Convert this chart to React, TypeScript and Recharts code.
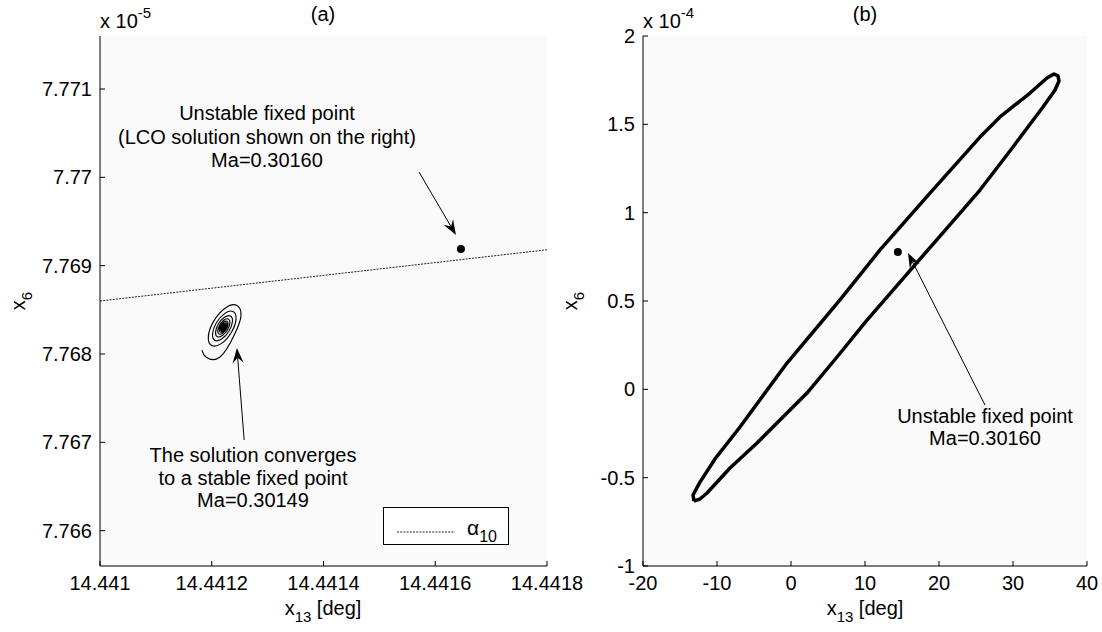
import React from 'react';
import { ComposedChart, Line, Scatter, XAxis, YAxis, CartesianGrid, ReferenceLine, Legend } from 'recharts';

// ---- panel (a): x13 vs x6 (x 1e-5) near the fixed point ----
const aXTicks = [14.441, 14.4412, 14.4414, 14.4416, 14.4418];
const aYTicks = [7.766, 7.767, 7.768, 7.769, 7.77, 7.771];
const aXDomain = [14.441, 14.4418];
const aYDomain = [7.7656, 7.7716];

// alpha_10 trace (dashed)
const alphaX = [14.441, 14.4418];
const alphaY = [7.7686, 7.76918];

// trajectory spiralling into the stable fixed point (Ma=0.30149)
const spiralX = [
  14.4411826, 14.4411897, 14.4412148, 14.4412409, 14.4412523, 14.441245, 14.4412245, 14.4412035,
  14.4411939, 14.4412001, 14.4412175, 14.4412353, 14.4412435, 14.4412382, 14.4412235, 14.4412083,
  14.4412014, 14.4412059, 14.4412184, 14.4412312, 14.4412371, 14.4412333, 14.4412227, 14.4412118,
  14.4412068, 14.44121, 14.441219, 14.4412283, 14.4412325, 14.4412298, 14.4412221, 14.4412143,
  14.4412107, 14.441213, 14.4412195, 14.4412261, 14.4412292, 14.4412272, 14.4412217, 14.4412161,
  14.4412135, 14.4412152, 14.4412198, 14.4412246, 14.4412268, 14.4412254, 14.4412174, 14.4412167,
  14.4412235, 14.4412241, 14.4412183, 14.4412178, 14.4412227, 14.4412231, 14.441219, 14.4412186,
  14.4412222, 14.4412225, 14.4412195, 14.4412192, 14.4412218, 14.441222, 14.4412198, 14.4412196,
  14.4412214, 14.4412216,
];
const spiralY = [
  7.768045, 7.767966, 7.767966, 7.768224, 7.768431, 7.76855, 7.768521, 7.768372,
  7.768197, 7.768096, 7.76812, 7.768247, 7.768395, 7.768481, 7.76846, 7.768353,
  7.768227, 7.768154, 7.768172, 7.768263, 7.76837, 7.768431, 7.768416, 7.768339,
  7.768248, 7.768196, 7.768209, 7.768274, 7.768351, 7.768396, 7.768385, 7.768329,
  7.768264, 7.768226, 7.768235, 7.768283, 7.768338, 7.76837, 7.768362, 7.768322,
  7.768275, 7.768248, 7.768255, 7.768289, 7.768329, 7.768352, 7.768317, 7.768264,
  7.768293, 7.768338, 7.768313, 7.768275, 7.768296, 7.768329, 7.768311, 7.768283,
  7.768298, 7.768322, 7.768309, 7.768289, 7.7683, 7.768317, 7.768308, 7.768293,
  7.768301, 7.768313,
];

// unstable fixed point (Ma=0.30160)
const unstableAX = [14.441646];
const unstableAY = [7.76919];

// annotation arrows [tailX, tailY, tipX, tipY]
const arrowUnstableA = [14.441571, 7.77006, 14.441637, 7.769347];
const arrowStableA = [14.441258, 7.767026, 14.441245, 7.768068];

// ---- panel (b): LCO at Ma=0.30160 (x 1e-4) ----
const bXTicks = [-20, -10, 0, 10, 20, 30, 40];
const bYTicks = [-1, -0.5, 0, 0.5, 1, 1.5, 2];
const bXDomain = [-20, 40];
const bYDomain = [-1, 2];

const lcoX = [
  -13.11, -12.3, -11.35, -8.24, -4.59, -1.22, 2.16, 6.22, 10.27, 16.49, 21.08, 25.54,
  30.0, 34.05, 35.68, 36.22, 36.08, 35.54, 34.59, 32.3, 28.24, 25.54, 18.78, 12.03,
  6.62, -0.54, -6.89, -10.27, -12.3, -13.24, -13.11,
];
const lcoY = [
  -0.632, -0.621, -0.587, -0.445, -0.304, -0.162, -0.021, 0.183, 0.392, 0.692, 0.913, 1.128,
  1.372, 1.598, 1.694, 1.745, 1.774, 1.785, 1.762, 1.677, 1.542, 1.428, 1.111, 0.789,
  0.506, 0.149, -0.213, -0.394, -0.525, -0.598, -0.632,
];

const unstableBX = [14.44];
const unstableBY = [0.777];

const arrowUnstableB = [26.22, -0.089, 15.81, 0.772];

const FONT = '"Liberation Sans", Arial, Helvetica, sans-serif';
const tickStyle = { fontSize: 20, fill: '#000', fontFamily: FONT };
const axisStroke = { stroke: '#000', strokeWidth: 1 };

const toPoints = (xs: number[], ys: number[]) => xs.map((x, i) => ({ x, y: ys[i] }));

const ArrowShape = (props: any) => {
  const { x1, y1, x2, y2 } = props;
  if (![x1, y1, x2, y2].every((v) => typeof v === 'number')) return null;
  const ang = Math.atan2(y2 - y1, x2 - x1);
  const len = 15;
  const half = 5.5;
  const c = Math.cos(ang);
  const s = Math.sin(ang);
  const bx = x2 - len * c;
  const by = y2 - len * s;
  const nx = x2 - len * 0.65 * c;
  const ny = y2 - len * 0.65 * s;
  const pts = `${x2},${y2} ${bx + half * s},${by - half * c} ${nx},${ny} ${bx - half * s},${by + half * c}`;
  return (
    <g>
      <line x1={x1} y1={y1} x2={nx} y2={ny} stroke="#000" strokeWidth={1} />
      <polygon points={pts} fill="#000" />
    </g>
  );
};

const Dot = (props: any) => <circle cx={props.cx} cy={props.cy} r={4} fill="#000" />;

const AlphaLegend = () => (
  <svg width={126} height={38} style={{ display: 'block' }}>
    <rect x={0.5} y={0.5} width={125} height={37} fill="#fff" stroke="#000" />
    <line x1={14} y1={25} x2={72} y2={25} stroke="#222" strokeWidth={1} strokeDasharray="2 1.2" />
    <text x={84} y={28} fontSize={21} fontFamily={FONT} fill="#000">
      α<tspan fontSize={16} dy={7}>10</tspan>
    </text>
  </svg>
);

function FrameAxes({ xDomain, yDomain, xTicks, yTicks, yWidth }: any) {
  return [
    <XAxis
      key="xb"
      xAxisId={0}
      type="number"
      dataKey="x"
      domain={xDomain}
      ticks={xTicks}
      interval={0}
      allowDataOverflow
      height={66}
      tickSize={-5}
      tickMargin={15}
      tick={tickStyle}
      axisLine={axisStroke}
      tickLine={axisStroke}
    />,
    <XAxis
      key="xt"
      xAxisId="top"
      orientation="top"
      type="number"
      dataKey="x"
      domain={xDomain}
      ticks={xTicks}
      interval={0}
      allowDataOverflow
      height={0}
      tickSize={-5}
      tick={false}
      axisLine={axisStroke}
      tickLine={axisStroke}
    />,
    <YAxis
      key="yl"
      yAxisId={0}
      type="number"
      dataKey="y"
      domain={yDomain}
      ticks={yTicks}
      interval={0}
      allowDataOverflow
      width={yWidth}
      tickSize={-5}
      tickMargin={13}
      tick={tickStyle}
      axisLine={axisStroke}
      tickLine={axisStroke}
    />,
    <YAxis
      key="yr"
      yAxisId="right"
      orientation="right"
      type="number"
      dataKey="y"
      domain={yDomain}
      ticks={yTicks}
      interval={0}
      allowDataOverflow
      width={0}
      tickSize={-5}
      tick={false}
      axisLine={axisStroke}
      tickLine={axisStroke}
    />,
  ];
}

function PanelA() {
  const [tx, ty, hx, hy] = arrowUnstableA;
  const [tx2, ty2, hx2, hy2] = arrowStableA;
  return (
    <ComposedChart width={620} height={632} margin={{ top: 36, right: 73, bottom: 0, left: 0 }}>
      <CartesianGrid fill="#fafafa" stroke="none" strokeOpacity={0} />
      {FrameAxes({ xDomain: aXDomain, yDomain: aYDomain, xTicks: aXTicks, yTicks: aYTicks, yWidth: 100 })}
      <Line
        data={toPoints(alphaX, alphaY)}
        dataKey="y"
        name="α10"
        type="linear"
        stroke="#222"
        strokeWidth={1}
        strokeDasharray="2 1.2"
        dot={false}
        isAnimationActive={false}
      />
      <Line
        data={toPoints(spiralX, spiralY)}
        dataKey="y"
        type="natural"
        stroke="#000"
        strokeWidth={1.15}
        dot={false}
        legendType="none"
        isAnimationActive={false}
      />
      <Scatter data={toPoints(unstableAX, unstableAY)} dataKey="y" shape={Dot} legendType="none" isAnimationActive={false} />
      <ReferenceLine segment={[{ x: tx, y: ty }, { x: hx, y: hy }]} shape={ArrowShape} />
      <ReferenceLine segment={[{ x: tx2, y: ty2 }, { x: hx2, y: hy2 }]} shape={ArrowShape} />
      <Legend
        layout="horizontal"
        verticalAlign="middle"
        align="center"
        content={() => <AlphaLegend />}
        wrapperStyle={{ position: 'absolute', left: 383, top: 507, width: 126, height: 38 }}
      />
    </ComposedChart>
  );
}

function PanelB() {
  const [tx, ty, hx, hy] = arrowUnstableB;
  return (
    <ComposedChart width={542} height={632} margin={{ top: 36, right: 15, bottom: 0, left: 0 }}>
      <CartesianGrid fill="#fafafa" stroke="none" strokeOpacity={0} />
      {FrameAxes({ xDomain: bXDomain, yDomain: bYDomain, xTicks: bXTicks, yTicks: bYTicks, yWidth: 83 })}
      <Line
        data={toPoints(lcoX, lcoY)}
        dataKey="y"
        type="linear"
        stroke="#000"
        strokeWidth={3.5}
        strokeLinejoin="round"
        dot={false}
        isAnimationActive={false}
      />
      <Scatter data={toPoints(unstableBX, unstableBY)} dataKey="y" shape={Dot} isAnimationActive={false} />
      <ReferenceLine segment={[{ x: tx, y: ty }, { x: hx, y: hy }]} shape={ArrowShape} />
    </ComposedChart>
  );
}

const txt = { fontSize: 20, fill: '#000', fontFamily: FONT } as const;

function Labels() {
  return (
    <svg width={1102} height={632} style={{ position: 'absolute', left: 0, top: 0, pointerEvents: 'none' }}>
      {/* titles */}
      <text x={323} y={21} textAnchor="middle" {...txt}>(a)</text>
      <text x={865} y={21} textAnchor="middle" {...txt}>(b)</text>
      {/* exponents */}
      <text x={100} y={28} {...txt}>
        x 10<tspan fontSize={15} dy={-10}>-5</tspan>
      </text>
      <text x={643} y={28} {...txt}>
        x 10<tspan fontSize={15} dy={-10}>-4</tspan>
      </text>
      {/* axis titles */}
      <text x={323} y={615} textAnchor="middle" {...txt}>
        x<tspan fontSize={15} dy={7}>13</tspan>
        <tspan dy={-7}>{'\u00a0[deg]'}</tspan>
      </text>
      <text x={865} y={615} textAnchor="middle" {...txt}>
        x<tspan fontSize={15} dy={7}>13</tspan>
        <tspan dy={-7}>{'\u00a0[deg]'}</tspan>
      </text>
      <text x={25} y={301} textAnchor="middle" transform="rotate(-90 25 301)" {...txt}>
        x<tspan fontSize={15} dy={7}>6</tspan>
      </text>
      <text x={577} y={301} textAnchor="middle" transform="rotate(-90 577 301)" {...txt}>
        x<tspan fontSize={15} dy={7}>6</tspan>
      </text>
      {/* annotations (a) */}
      <text textAnchor="middle" {...txt}>
        <tspan x={267} y={120}>Unstable fixed point</tspan>
        <tspan x={267} y={144}>(LCO solution shown on the right)</tspan>
        <tspan x={267} y={167}>Ma=0.30160</tspan>
      </text>
      <text textAnchor="middle" {...txt}>
        <tspan x={253} y={462}>The solution converges</tspan>
        <tspan x={253} y={485}>to a stable fixed point</tspan>
        <tspan x={253} y={507}>Ma=0.30149</tspan>
      </text>
      {/* annotation (b) */}
      <text textAnchor="middle" {...txt}>
        <tspan x={985} y={423}>Unstable fixed point</tspan>
        <tspan x={985} y={445}>Ma=0.30160</tspan>
      </text>
    </svg>
  );
}

export default function App() {
  return (
    <div
      style={{
        position: 'absolute',
        left: 0,
        top: 0,
        width: 1102,
        height: 632,
        background: '#fff',
        fontFamily: FONT,
        overflow: 'hidden',
      }}
    >
      <div style={{ position: 'absolute', left: 0, top: 0 }}>
        <PanelA />
      </div>
      <div style={{ position: 'absolute', left: 560, top: 0 }}>
        <PanelB />
      </div>
      <Labels />
    </div>
  );
}
